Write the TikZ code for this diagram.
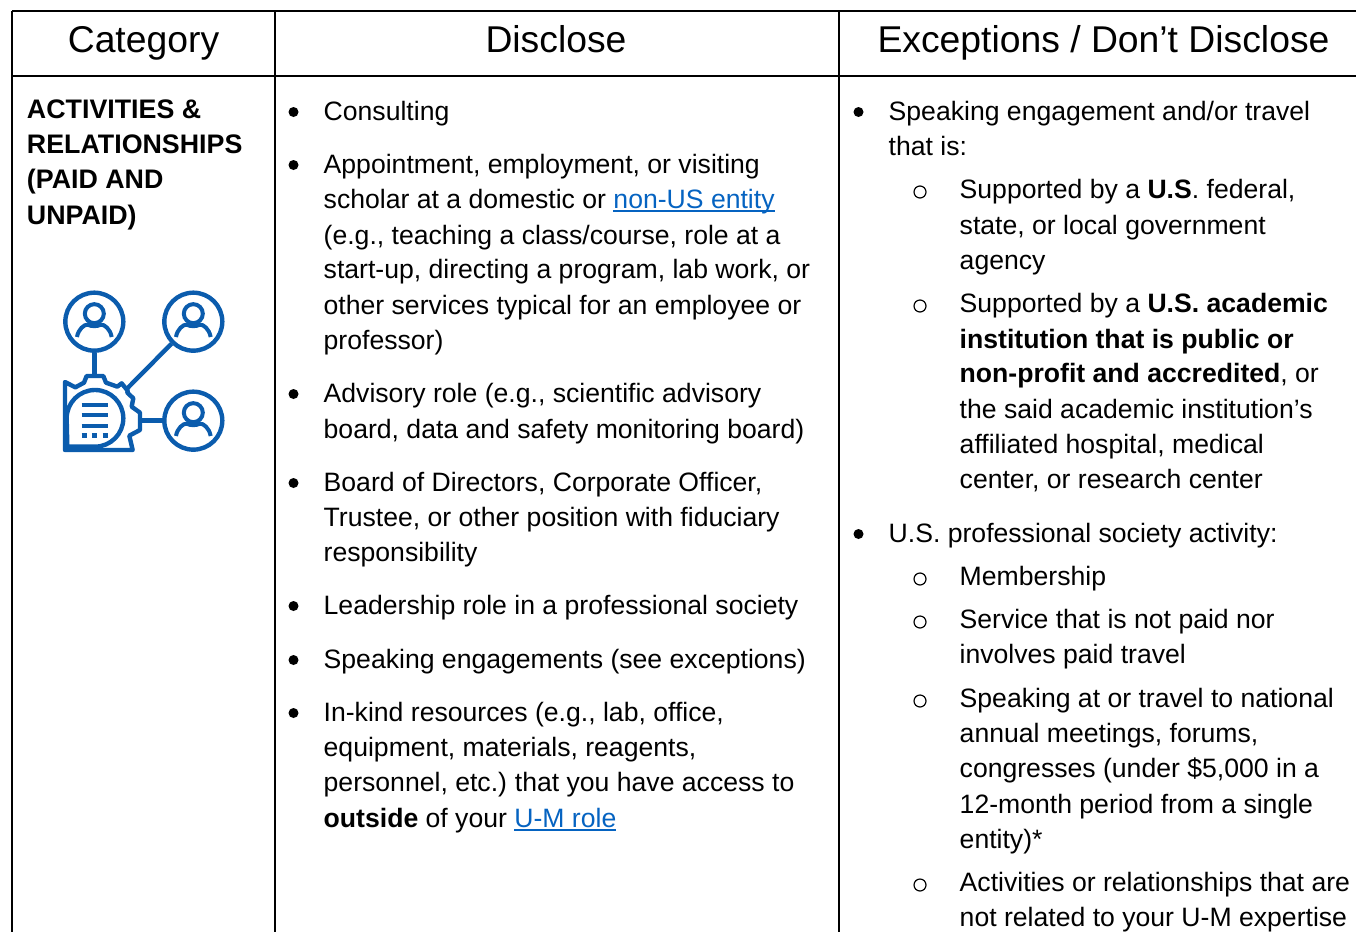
\documentclass[tikz,border=0pt]{standalone}
\usepackage{fontspec}
\setmainfont{Liberation Sans}
\definecolor{linkblue}{HTML}{0563C1}
\definecolor{iconblue}{HTML}{0B5CAD}
\newcounter{tln}
\newcommand{\tl}[3]{\stepcounter{tln}\node[textline] (t\thetln) at (#1,#2) {#3};}
\newcommand{\hd}[3]{\stepcounter{tln}\node[headtext] (t\thetln) at (#1,#2) {#3};}
\newcommand{\bh}[3]{\stepcounter{tln}\node[textline,font=\fontsize{26.8}{30}\selectfont\bfseries] (t\thetln) at (#1,#2) {#3};}
\newcommand{\bul}[2]{\stepcounter{tln}\node[bulletdot] (t\thetln) at (#1,#2) {};}
\newcommand{\rng}[2]{\stepcounter{tln}\node[ringdot] (t\thetln) at (#1,#2) {};}
\newsavebox{\lnkbox}
\newcommand{\lnk}[1]{\sbox{\lnkbox}{\color{linkblue}#1}{\color{linkblue}\rlap{\rule[-4pt]{\wd\lnkbox}{1.6pt}}\usebox{\lnkbox}}}
\begin{document}
\begin{tikzpicture}[x=1pt,y=-1pt,
  textline/.style={anchor=base west,inner sep=0pt,outer sep=0pt,font=\fontsize{26.6}{30}\selectfont},
  headtext/.style={anchor=base,inner sep=0pt,outer sep=0pt,font=\fontsize{37.3}{40}\selectfont},
  bulletdot/.style={circle,fill=black,inner sep=0pt,minimum size=10pt},
  ringdot/.style={circle,draw=black,line width=1.2pt,inner sep=0pt,minimum size=12pt},
  rule/.style={line width=2pt,black},
  icon/.style={iconblue,line width=4.4pt},
  bodyline/.style={iconblue,line width=4pt},
  person/.style={circle,draw=iconblue,line width=4.4pt,inner sep=0pt,minimum size=58pt},
  headring/.style={circle,draw=iconblue,line width=4pt,inner sep=0pt,minimum size=19pt}]
\useasboundingbox (0,0) rectangle (1356,932);
% table
\coordinate (tl) at (12,11); \coordinate (tr) at (1356,11);
\coordinate (hl) at (12,76); \coordinate (hr) at (1356,76);
\coordinate (bl) at (12,932); \coordinate (c1t) at (275,11); \coordinate (c1b) at (275,932);
\coordinate (c2t) at (839,11); \coordinate (c2b) at (839,932);
\draw[rule] (tl)--(tr);
\draw[rule] (hl)--(hr);
\draw[rule] (tl)--(bl);
\draw[rule] (c1t)--(c1b);
\draw[rule] (c2t)--(c2b);
% headers
\hd{143.5}{52}{Category}
\hd{556}{52}{Disclose}
\hd{1103.5}{52}{Exceptions / Don’t Disclose}
% left col
\bh{27}{118}{ACTIVITIES \&}
\bh{27}{153}{RELATIONSHIPS}
\bh{27}{188}{(PAID AND}
\bh{27}{224}{UNPAID)}
% middle
\bul{293.5}{112}\tl{323.7}{120}{Consulting}
\bul{293.5}{165}\tl{323.7}{173}{Appointment, employment, or visiting}
\tl{323.7}{208}{scholar at a domestic or \lnk{non-US entity}}
\tl{323.7}{244}{(e.g., teaching a class/course, role at a}
\tl{323.7}{278}{start-up, directing a program, lab work, or}
\tl{323.7}{314}{other services typical for an employee or}
\tl{323.7}{349}{professor)}
\bul{293.5}{394}\tl{323.7}{402}{Advisory role (e.g., scientific advisory}
\tl{323.7}{438}{board, data and safety monitoring board)}
\bul{293.5}{483}\tl{323.7}{491}{Board of Directors, Corporate Officer,}
\tl{323.7}{526}{Trustee, or other position with fiduciary}
\tl{323.7}{561}{responsibility}
\bul{293.5}{606}\tl{323.7}{614}{Leadership role in a professional society}
\bul{293.5}{660}\tl{323.7}{668}{Speaking engagements (see exceptions)}
\bul{293.5}{713}\tl{323.7}{721}{In-kind resources (e.g., lab, office,}
\tl{323.7}{756}{equipment, materials, reagents,}
\tl{323.7}{791}{personnel, etc.)\kern-2pt{} that you have access to}
\tl{323.7}{827}{\textbf{outside} of your \lnk{U-M role}}
% right
\bul{858.5}{112}\tl{888.7}{120}{Speaking engagement and/or travel}
\tl{888.7}{155}{that is:}
\rng{920}{192}\tl{959.7}{198}{Supported by a \textbf{U.S}. federal,}
\tl{959.7}{234}{state, or local government}
\tl{959.7}{269}{agency}
\rng{920}{306}\tl{959.7}{312}{Supported by a \textbf{U.S. academic}}
\tl{959.7}{348}{\textbf{institution that is public or}}
\tl{959.7}{382}{\textbf{non-profit and accredited}, or}
\tl{959.7}{418}{the said academic institution’s}
\tl{959.7}{453}{affiliated hospital, medical}
\tl{959.7}{488}{center, or research center}
\bul{858.5}{534}\tl{888.7}{542}{U.S. professional society activity:}
\rng{920}{579}\tl{959.7}{585}{Membership}
\rng{920}{622}\tl{959.7}{628}{Service that is not paid nor}
\tl{959.7}{663}{involves paid travel}
\rng{920}{701}\tl{959.7}{707}{Speaking at or travel to national}
\tl{959.7}{742}{annual meetings, forums,}
\tl{959.7}{777}{congresses (under \$5,000 in a}
\tl{959.7}{813}{12-month period from a single}
\tl{959.7}{848}{entity)*}
\rng{920}{885}\tl{959.7}{891}{Activities or relationships that are}
\tl{959.7}{926}{not related to your U-M expertise}
% icon: coordinates from the 3x crop at (40,270)
\begin{scope}[shift={(40,270)},x=0.3333pt,y=-0.3333pt]
 \node[person] (p1) at (163,155) {};
 \node[person] (p2) at (460,155) {};
 \node[person] (p3) at (460,452) {};
 \coordinate (g1) at (163,318);
 \coordinate (g2) at (262,355);
 \coordinate (g3) at (300,452);
 \draw[icon] (p1)--(g1);
 \draw[icon] (p2)--(g2);
 \draw[icon] (p3)--(g3);
 \foreach \c/\y/\n in {163/155/a,460/155/b,460/452/c}{
   \node[headring] (h\n) at (\c,\y-24) {};
   \draw[bodyline] (\c-52,\y+46) .. controls (\c-48,\y+22) and (\c-30,\y+8) .. (\c-20,\y+9) .. controls (\c-8,\y+15) and (\c+8,\y+15) .. (\c+20,\y+9) .. controls (\c+30,\y+8) and (\c+48,\y+22) .. (\c+52,\y+46);
 }
 % gear outline
 \draw[icon,line join=round] (75,540)--(75,336)--(106,352)--(132,338)--(140,318)--(190,318)--(198,338)--(232,350)--(245,340)--(263,362)--(262,368)--(280,385)--(275,410)--(300,428)--(300,480)--(268,497)--(278,540)--cycle;
 \draw[icon] (82,530)--(165,530) arc[start angle=90,end angle=-180,x radius=85,y radius=85]--(80,445)--cycle;
 \draw[icon,line width=4.2pt] (125,405)--(205,405) (125,435)--(205,435) (125,467)--(205,467);
 \draw[icon,line width=4.6pt] (125,497)--(141,497) (156,497)--(172,497) (188,497)--(204,497);
\end{scope}
\end{tikzpicture}
\end{document}
